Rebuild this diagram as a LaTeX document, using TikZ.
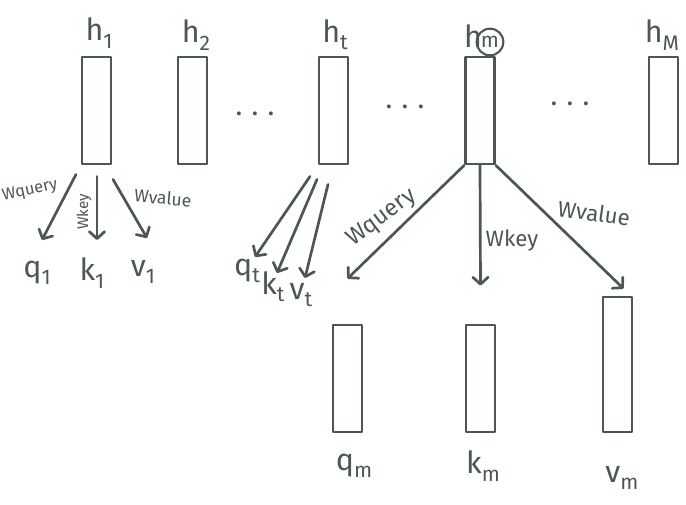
\documentclass[tikz,border=0pt]{standalone}
\usepackage{fontspec}
\setmainfont{Fira Sans}
\usetikzlibrary{arrows.meta}
\definecolor{ink}{HTML}{4B5757}
% lowered index letter, hand-lettering style
\newcommand\lsub[1]{\raisebox{-0.45ex}{\fontsize{18}{18}\selectfont #1}}
\begin{document}
\begin{tikzpicture}[x=0.03cm,y=-0.03cm,
  every node/.style={text=ink},
  vec/.style={draw=ink,line width=2.4pt,line join=round,rectangle,inner sep=0pt,
              minimum width=0.87cm,minimum height=3.21cm},
  big/.style={font=\fontsize{26}{30}\selectfont,inner sep=0pt},
  wlab/.style={font=\fontsize{#1}{#1}\selectfont,inner sep=0pt},
  dots/.style={font=\fontsize{24}{24}\selectfont,inner sep=0pt},
  arr/.style={draw=ink,line width=2.3pt,line cap=round,line join=round,
              -{Straight Barb[length=6pt,width=13pt,line cap=round,line join=round]}},
]
\useasboundingbox (0,0) rectangle (686,505);

% hidden-state vectors
\node[vec] (h1) at (96.5,110.5) {};
\node[vec] (h2) at (192.5,110.5) {};
\node[vec] (ht) at (333.5,110.5) {};
\node[vec] (hm) at (480,110.5) {};
\node[vec] (hM) at (663.5,110.5) {};

\node[big] (h1l) at (99,33) {h\lsub{1}};
\node[big] (h2l) at (196,35) {h\lsub{2}};
\node[big] (htl) at (335,35) {h\lsub{t}};
\node[big] (hml) at (473,36) {h};
\node[draw=ink,line width=1.8pt,circle,inner sep=0pt,minimum size=0.8cm,
      font=\fontsize{18}{18}\selectfont] (ring) at (490,42) {m};
\node[big] (hMl) at (662,35) {h\lsub{M}};

\node[dots] (d1) at (255,114) {.\,\,.\,\,.};
\node[dots] (d2) at (405,107) {.\,\,.\,\,.};
\node[dots] (d3) at (570,104) {.\,\,.\,\,.};

% query / key / value of h_1
\node[big] (q1) at (37,273) {q\lsub{1}};
\node[big] (k1) at (92,273) {k\lsub{1}};
\node[big] (v1) at (143,272) {v\lsub{1}};
\draw[arr] ([shift={(-20.5,9)}]h1.south) -- ([shift={(5,-33)}]q1.center);
\draw[arr] ([shift={(0.5,11)}]h1.south) -- ([shift={(5,-33)}]k1.center);
\draw[arr] ([shift={(16.5,14)}]h1.south) -- ([shift={(4,-34)}]v1.center);
\node[wlab=14,rotate=12] (wq1) at (30,191) {Wquery};
\node[wlab=13,rotate=90] (wk1) at (84,212) {Wkey};
\node[wlab=15,rotate=-5] (wv1) at (163,198) {Wvalue};

% query / key / value of h_t
\node[big] (qt) at (247,271) {q\lsub{t}};
\node[big] (kt) at (273,287) {k\lsub{t}};
\node[big] (vt) at (301,295) {v\lsub{t}};
\draw[arr] ([shift={(-23.5,11)}]ht.south) -- ([shift={(8,-14)}]qt.center);
\draw[arr] ([shift={(-16.5,14)}]ht.south) -- ([shift={(4,-14)}]kt.center);
\draw[arr] ([shift={(-5.5,19)}]ht.south) -- ([shift={(4,-17)}]vt.center);

% query / key / value of h_m
\node[vec] (qm) at (347.5,378.5) {};
\node[vec] (km) at (480.5,378.5) {};
\node[vec,minimum height=4.05cm] (vm) at (617.5,364.5) {};
\draw[arr] (hm.south west) -- ([shift={(0,-45)}]qm.north);
\draw[arr] (hm.south) -- ([shift={(0,-38)}]km.north);
\draw[arr] (hm.south east) -- ([shift={(6,-7)}]vm.north);
\node[wlab=20,rotate=37] (wqm) at (382,218) {Wquery};
\node[wlab=19] (wkm) at (512,241) {Wkey};
\node[wlab=19,rotate=-8] (wvm) at (594,213) {Wvalue};

\node[big] (qml) at (354,466) {q\lsub{m}};
\node[big] (kml) at (483,466) {k\lsub{m}};
\node[big] (vml) at (622,478) {v\lsub{m}};
\end{tikzpicture}
\end{document}
